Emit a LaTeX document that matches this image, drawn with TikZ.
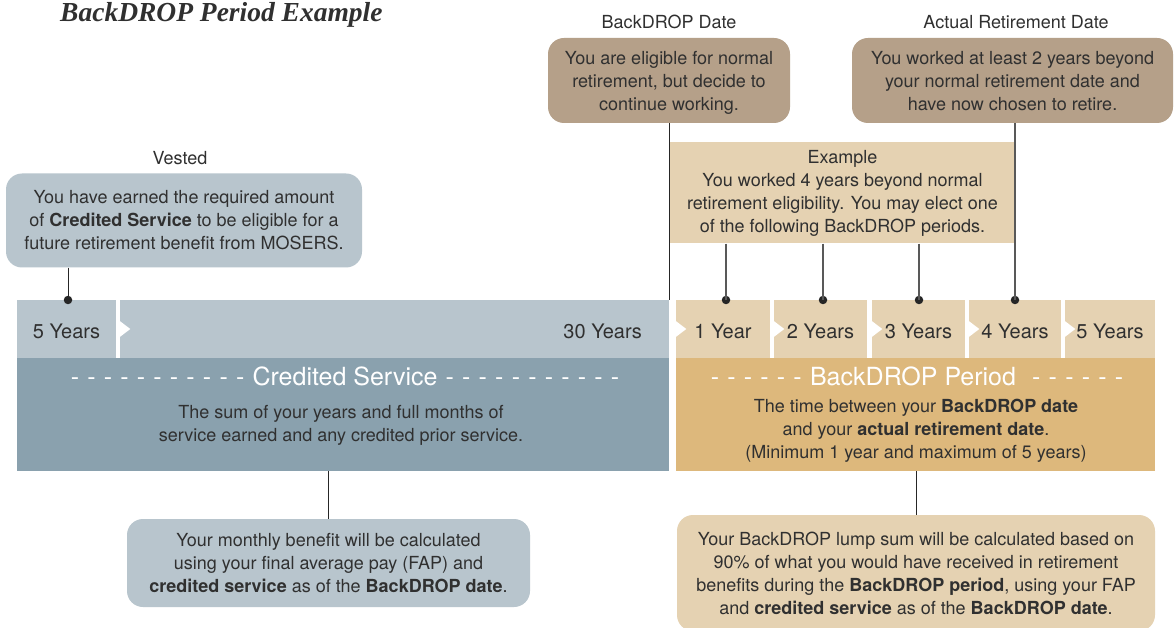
\documentclass[tikz,border=0pt]{standalone}
\usepackage{fontspec}
\setmainfont{TeX Gyre Heros}
\newfontfamily\titlefont{Liberation Serif}
\definecolor{gl}{HTML}{B8C5CD}
\definecolor{gd}{HTML}{8AA1AE}
\definecolor{br}{HTML}{B5A089}
\definecolor{tl}{HTML}{E5D2B2}
\definecolor{td}{HTML}{DDB87C}
\definecolor{txt}{HTML}{303030}
\newcommand\bodyfs{\fontsize{18}{23}\selectfont}
\newcommand\hyleft[1]{\foreach \i in {1,...,#1}{-\hspace{8.2pt}}}
\newcommand\hyright[1]{\foreach \i in {1,...,#1}{\hspace{8.2pt}-}}
\begin{document}
\begin{tikzpicture}[x=1pt,y=-1pt,
  rbox/.style={rounded corners=16pt, inner sep=0pt, align=center, text=txt, font=\bodyfs},
  seg/.style={inner sep=0pt, text=txt, font=\fontsize{20}{24}\selectfont, text height=18pt, text depth=0pt, minimum height=58pt},
  lbl/.style={inner sep=0pt, text=txt, font=\fontsize{18}{22}\selectfont},
  band/.style={inner sep=0pt, minimum height=113pt},
  head/.style={inner sep=0pt, text=white, font=\fontsize{25}{30}\selectfont},
  bodytxt/.style={inner sep=0pt, align=center, text=txt},
  conn/.style={draw=black!85, line width=1pt},
  conng/.style={draw=black!65, line width=1.4pt},
  dotn/.style={circle, fill=black!85, inner sep=0pt, minimum size=8.5pt},
  notch/.style={fill=white, draw=none}
]
\useasboundingbox[fill=white] (0,0) rectangle (1175,628);

% title
\node[anchor=base west, inner sep=0pt, text=txt, font=\titlefont\bfseries\itshape\fontsize{27.5}{32}\selectfont] (title) at (60,22) {BackDROP Period Example};

% top labels
\node[lbl, anchor=base] (bdlbl) at (669,29) {BackDROP Date};
\node[lbl, anchor=base] (arlbl) at (1016,29) {Actual Retirement Date};
\node[lbl, anchor=base] (vlbl) at (180,165) {Vested};

% callout boxes
\node[rbox, fill=br, minimum width=242pt, minimum height=85pt, text depth=0pt] (bd) at (669,80.5)
  {You are eligible for normal\\retirement, but decide to\\continue working.};
\node[rbox, fill=br, minimum width=321pt, minimum height=85pt, text depth=0pt] (ar) at (1012.5,80.5)
  {You worked at least 2 years beyond\\your normal retirement date and\\have now chosen to retire.};
\node[inner sep=0pt, fill=tl, align=center, text=txt, font=\bodyfs, minimum width=345pt, minimum height=101pt] (ex) at (842.5,193)
  {Example\\You worked 4 years beyond normal\\retirement eligibility. You may elect one\\of the following BackDROP periods.};
\node[rbox, fill=gl, minimum width=356pt, minimum height=94pt] (vest) at (184,220.5)
  {You have earned the required amount\\of \textbf{Credited Service} to be eligible for a\\future retirement benefit from MOSERS.};

% timeline segments
\node[seg, fill=gl, minimum width=99pt] (s5) at (66.5,329) {5 Years};
\node[seg, fill=gl, minimum width=549pt] (s30) at (394.5,329) {};
\node[lbl, font=\fontsize{20}{24}\selectfont, anchor=base east] (s30lbl) at (642,338) {30 Years};
\node[seg, fill=tl, minimum width=94pt] (t1) at (723,329) {1 Year};
\node[seg, fill=tl, minimum width=93pt] (t2) at (820.5,329) {2 Years};
\node[seg, fill=tl, minimum width=93pt] (t3) at (918.5,329) {3 Years};
\node[seg, fill=tl, minimum width=92pt] (t4) at (1015,329) {4 Years};
\node[seg, fill=tl, minimum width=90pt] (t5) at (1110,329) {5 Years};

% chevron notches
\foreach \n in {s30,t1,t2,t3,t4,t5}{
  \fill[notch] ([yshift=-8pt]\n.west) -- ([xshift=10.5pt]\n.west) -- ([yshift=8pt]\n.west) -- cycle;
}

% bands
\node[band, fill=gd, minimum width=652pt] (csband) at (343,414.5) {};
\node[band, fill=td, minimum width=479pt] (bpband) at (915.5,414.5) {};
\node[head, anchor=base] (cshead) at (345,385) {\hyleft{11}Credited Service\hyright{11}};
\node[head, anchor=base] (bphead) at (917,385) {\hyleft{6}BackDROP Period\hspace{8pt}\hyright{6}};
\node[bodytxt, font=\fontsize{18}{23}\selectfont] (csbody) at (341,425)
  {The sum of your years and full months of\\service earned and any credited prior service.};
\node[bodytxt, font=\fontsize{18}{23}\selectfont] (bpbody) at (916,431)
  {The time between your \textbf{BackDROP date}\\and your \textbf{actual retirement date}.\\(Minimum 1 year and maximum of 5 years)};

% bottom boxes
\node[rbox, fill=gl, minimum width=403pt, minimum height=88pt] (csbox) at (328.5,563)
  {Your monthly benefit will be calculated\\using your final average pay (FAP) and\\\textbf{credited service} as of the \textbf{BackDROP date}.};
\node[rbox, fill=tl, minimum width=478pt, minimum height=116pt] (bpbox) at (916,573)
  {Your BackDROP lump sum will be calculated based on\\90\% of what you would have received in retirement\\benefits during the \textbf{BackDROP period}, using your FAP\\and \textbf{credited service} as of the \textbf{BackDROP date}.};

% dots
\node[dotn] (d0) at (68,300) {};
\node[dotn] (d1) at (726,300) {};
\node[dotn] (d2) at (823,300) {};
\node[dotn] (d3) at (919,300) {};
\node[dotn] (d4) at (1015,300) {};

% connectors
\draw[conn] (vest.south -| d0) -- (d0.center);
\draw[conn] (bd.south) -- (bd.south |- s30.north);
\draw[conng] (ar.south -| d4) -- (d4.center);
\draw[conng] (ex.south -| d1) -- (d1.center);
\draw[conng] (ex.south -| d2) -- (d2.center);
\draw[conng] (ex.south -| d3) -- (d3.center);
\draw[conn] (csbox.north) -- (csbox.north |- csband.south);
\draw[conn] (bpbox.north) -- (bpbox.north |- bpband.south);
\end{tikzpicture}
\end{document}
